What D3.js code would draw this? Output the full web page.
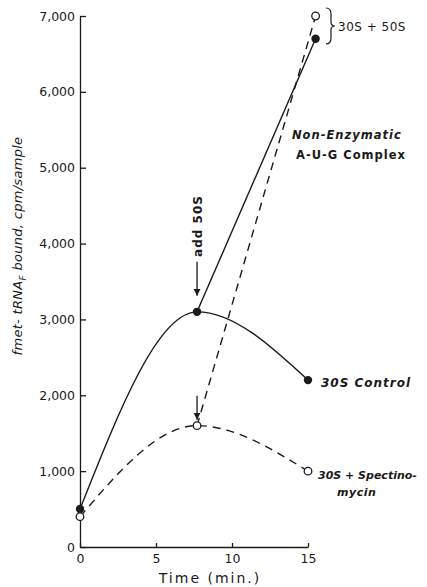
<!DOCTYPE html>
<html>
<head>
<meta charset="utf-8">
<script src="https://cdn.jsdelivr.net/npm/d3@7"></script>
<style>
  html, body { margin: 0; padding: 0; background: #fff; }
  svg { display: block; }
  text { fill: #1a1a1a; }
</style>
</head>
<body>
<svg id="chart" width="427" height="587"></svg>
<script>
// ---- data ----
const times = [0, 7.7, 15];
const control30S = [500, 3100, 2200];
const spectino30S = [400, 1600, 1000];
const addTimes = [7.7, 15.5];
const control50S = [3100, 6700];
const spectino50S = [1600, 7000];
const xTicks = [0, 5, 10, 15];
const yTicks = [0, 1000, 2000, 3000, 4000, 5000, 6000, 7000];

const svg = d3.select("#chart");
const ink = "#1a1a1a";
const x = d3.scaleLinear().domain([0, 15]).range([80, 308]);
const y = d3.scaleLinear().domain([0, 7000]).range([547, 16]);

const font = "'DejaVu Sans', Verdana, sans-serif";

// axes
const yAxis = d3.axisLeft(y).tickValues(yTicks)
  .tickFormat(d => d === 0 ? "0" : d3.format(",")(d))
  .tickSizeInner(-6).tickSizeOuter(0).tickPadding(5);
const gy = svg.append("g").attr("transform", `translate(${x(0)},0)`).call(yAxis);
gy.selectAll("text").style("font-family", font).style("font-size", "12.5px").attr("fill", ink);
gy.selectAll("line,path").attr("stroke", ink).attr("stroke-width", 1.3);

const xAxis = d3.axisBottom(x).tickValues(xTicks)
  .tickSizeInner(-4).tickSizeOuter(0).tickPadding(7);
const gx = svg.append("g").attr("transform", `translate(0,${y(0)})`).call(xAxis);
gx.selectAll("text").style("font-family", font).style("font-size", "12.5px").attr("fill", ink);
gx.selectAll("line,path").attr("stroke", ink).attr("stroke-width", 1.3);

// axis titles
svg.append("text")
  .attr("x", 210).attr("y", 583)
  .attr("text-anchor", "middle")
  .style("font-family", font).style("font-size", "14px")
  .style("letter-spacing", "2px")
  .text("Time (min.)");

const yl = svg.append("text")
  .attr("transform", "translate(22,246) rotate(-90)")
  .attr("text-anchor", "middle")
  .style("font-family", font).style("font-size", "13px")
  .style("font-style", "italic").style("letter-spacing", "0.3px");
yl.append("tspan").text("fmet- tRNA");
yl.append("tspan").attr("dy", 4).style("font-size", "9px").text("F");
yl.append("tspan").attr("dy", -4).text(" bound, cpm/sample");

// curves
const pts = (xs, ys) => xs.map((t, i) => [x(t), y(ys[i])]);
const smooth = d3.line().curve(d3.curveMonotoneX);
const straight = d3.line();

svg.append("path").attr("d", smooth(pts(times, control30S)))
  .attr("fill", "none").attr("stroke", ink).attr("stroke-width", 1.4);
svg.append("path").attr("d", smooth(pts(times, spectino30S)))
  .attr("fill", "none").attr("stroke", ink).attr("stroke-width", 1.4)
  .attr("stroke-dasharray", "8,6");
svg.append("path").attr("d", straight(pts(addTimes, control50S)))
  .attr("fill", "none").attr("stroke", ink).attr("stroke-width", 1.4);
svg.append("path").attr("d", straight(pts(addTimes, spectino50S)))
  .attr("fill", "none").attr("stroke", ink).attr("stroke-width", 1.4)
  .attr("stroke-dasharray", "8,6");

// markers
const filled = pts(times, control30S).concat(pts([addTimes[1]], [control50S[1]]));
const open = pts(times, spectino30S).concat(pts([addTimes[1]], [spectino50S[1]]));
svg.selectAll("circle.f").data(filled).join("circle").attr("class", "f")
  .attr("cx", d => d[0]).attr("cy", d => d[1]).attr("r", 4.2).attr("fill", ink);
svg.selectAll("circle.o").data(open).join("circle").attr("class", "o")
  .attr("cx", d => d[0]).attr("cy", d => d[1]).attr("r", 3.8)
  .attr("fill", "#fff").attr("stroke", ink).attr("stroke-width", 1.3);

// arrows
svg.append("defs").append("marker").attr("id", "ah")
  .attr("viewBox", "0 0 10 10").attr("refX", 10).attr("refY", 5)
  .attr("markerWidth", 7).attr("markerHeight", 8).attr("orient", "auto")
  .attr("markerUnits", "userSpaceOnUse")
  .append("path").attr("d", "M0,0 L10,5 L0,10 Z").attr("fill", ink);

function arrow(t, v, len, gap) {
  const px = x(t), py = y(v);
  svg.append("line").attr("x1", px).attr("x2", px)
    .attr("y1", py - gap - len).attr("y2", py - gap)
    .attr("stroke", ink).attr("stroke-width", 1.3).attr("marker-end", "url(#ah)");
}
arrow(times[1], control30S[1], 34, 16);
arrow(times[1], spectino30S[1], 24, 6);

// annotations
const lab = (txt, xx, yy, opts = {}) => svg.append("text")
  .attr("x", xx).attr("y", yy)
  .style("font-family", font).style("font-size", opts.size || "11.5px")
  .style("font-weight", opts.weight || "bold").style("font-style", opts.italic ? "italic" : "normal")
  .style("letter-spacing", opts.ls || "1px")
  .text(txt);

svg.append("text")
  .attr("transform", `translate(${x(times[1]) + 5},226) rotate(-90)`)
  .attr("text-anchor", "middle")
  .style("font-family", font).style("font-size", "12px").style("font-weight", "bold")
  .style("letter-spacing", "1px")
  .text("add 50S");

// brace
svg.append("path")
  .attr("d", "M326,8 Q331,8 331,14 L331,22 Q331,26 335,26 Q331,26 331,30 L331,38 Q331,44 326,44")
  .attr("fill", "none").attr("stroke", ink).attr("stroke-width", 1.2);
lab("30S + 50S", 338, 31, {size: "12px", ls: "0.5px", weight: "normal"});

lab("Non-Enzymatic", 292, 139, {italic: true});
lab("A-U-G Complex", 296, 159, {italic: false});
lab("30S Control", 321, 387, {italic: true, size: "12px"});
lab("30S + Spectino-", 318, 479, {italic: true, size: "11px", ls: "0px"});
lab("mycin", 337, 496, {italic: true, size: "11px", ls: "0.5px"});
</script>
</body>
</html>
